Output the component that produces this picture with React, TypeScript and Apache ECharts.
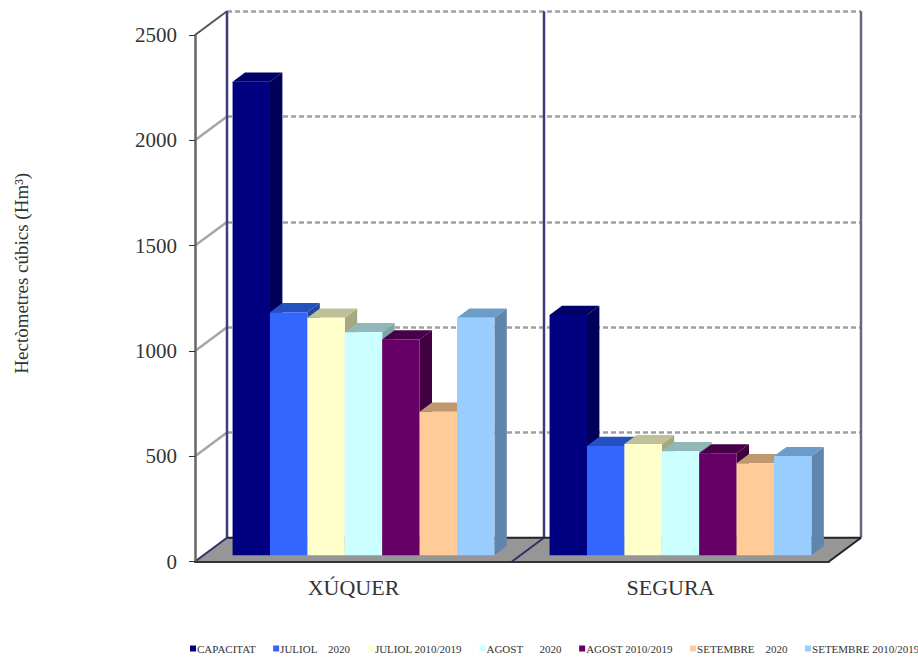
import React, { useEffect, useRef } from "react";
import * as echarts from "echarts";

const categories = ["XÚQUER", "SEGURA"];
const seriesNames = [
  "CAPACITAT",
  "JULIOL    2020",
  "JULIOL 2010/2019",
  "AGOST      2020",
  "AGOST 2010/2019",
  "SETEMBRE    2020",
  "SETEMBRE 2010/2019",
];
const capacitat = [2249, 1141];
const juliol2020 = [1154, 519];
const juliolMitjana = [1128, 528];
const agost2020 = [1059, 494];
const agostMitjana = [1025, 484];
const setembre2020 = [682, 437];
const setembreMitjana = [1128, 471];
const seriesValues = [capacitat, juliol2020, juliolMitjana, agost2020, agostMitjana, setembre2020, setembreMitjana];

const frontColors = ["#000080", "#3366ff", "#ffffcc", "#ccffff", "#660066", "#ffcc99", "#99ccff"];
const topColors = ["#000068", "#2450c0", "#c0c098", "#90b8b8", "#470047", "#c09870", "#6c9cc8"];
const sideColors = ["#000058", "#24489c", "#a8a880", "#80a4a4", "#400040", "#a88460", "#6285ad"];

const FONT = "'Liberation Serif', 'Times New Roman', serif";
const TEXT = "#333333";
const WALL_DX = 32;
const WALL_DY = -23.7;
const BAR_NEAR_DX = 8.6;
const BAR_NEAR_DY = -6.2;
const BAR_DEPTH_DX = 12.4;
const BAR_DEPTH_DY = -9.2;
const BAR_BAND_SHARE = 0.118;

const barRender = (seriesIndex: number) => (_p: any, api: any) => {
  const cat = api.value(0);
  const val = api.value(1);
  const base = api.coord([cat, 0]);
  const top = api.coord([cat, val]);
  const band = api.size([1, 0])[0];
  const w = band * BAR_BAND_SHARE;
  const x0 = base[0] + BAR_NEAR_DX + (seriesIndex - 3.5) * w + 1.4;
  const x1 = x0 + w;
  const yb = base[1] + BAR_NEAR_DY;
  const yt = top[1] + BAR_NEAR_DY;
  const dx = BAR_DEPTH_DX;
  const dy = BAR_DEPTH_DY;
  return {
    type: "group",
    children: [
      {
        type: "polygon",
        shape: { points: [[x1, yt], [x1 + dx, yt + dy], [x1 + dx, yb + dy], [x1, yb]] },
        style: { fill: sideColors[seriesIndex] },
      },
      {
        type: "polygon",
        shape: { points: [[x0, yt], [x0 + dx, yt + dy], [x1 + dx, yt + dy], [x1, yt]] },
        style: { fill: topColors[seriesIndex] },
      },
      {
        type: "rect",
        shape: { x: x0, y: yt, width: w, height: yb - yt },
        style: { fill: frontColors[seriesIndex] },
      },
    ],
  };
};

const wallRender = (_p: any, api: any) => {
  const band = api.size([1, 0])[0];
  const left = api.coord([0, 0])[0] - band / 2;
  const mid = left + band;
  const right = left + 2 * band;
  const y0 = api.coord([0, 0])[1];
  const ticks = [0, 500, 1000, 1500, 2000, 2500];
  const children: any[] = [
    {
      type: "polygon",
      shape: {
        points: [
          [left, y0],
          [right, y0],
          [right + WALL_DX, y0 + WALL_DY],
          [left + WALL_DX, y0 + WALL_DY],
        ],
      },
      style: { fill: "#969696" },
    },
  ];
  const seg = (x1: number, y1: number, x2: number, y2: number, stroke: string, lineWidth: number) =>
    children.push({ type: "line", shape: { x1, y1, x2, y2 }, style: { stroke, lineWidth } });
  ticks.forEach((t) => {
    if (t === 0) return;
    const y = api.coord([0, t])[1];
    seg(left, y, left + WALL_DX, y + WALL_DY, t === 2500 ? "#555555" : "#a6a6a6", t === 2500 ? 2 : 2.5);
  });
  const yTop = api.coord([0, 2500])[1] + WALL_DY;
  seg(left + WALL_DX, yTop, left + WALL_DX, y0 + WALL_DY, "#3c3c78", 2.5);
  seg(mid + WALL_DX, yTop, mid + WALL_DX, y0 + WALL_DY, "#3c3c78", 2.5);
  seg(right + WALL_DX, yTop, right + WALL_DX, y0 + WALL_DY, "#686880", 2.5);
  seg(left + WALL_DX, y0 + WALL_DY, right + WALL_DX, y0 + WALL_DY, "#222222", 2);
  seg(left, y0, left + WALL_DX, y0 + WALL_DY, "#30306a", 2);
  seg(mid, y0, mid + WALL_DX, y0 + WALL_DY, "#30306a", 2);
  seg(right, y0, right + WALL_DX, y0 + WALL_DY, "#222222", 2);
  return { type: "group", children };
};

export default function App() {
  const ref = useRef<HTMLDivElement>(null);
  useEffect(() => {
    const chart = echarts.init(ref.current!, null, { renderer: "svg" });
    chart.setOption({
      animation: false,
      backgroundColor: "#ffffff",
      textStyle: { fontFamily: FONT },
      legend: {
        left: 190,
        top: 643,
        width: 800,
        padding: 0,
        itemGap: 17.5,
        itemWidth: 6,
        itemHeight: 6,
        icon: "rect",
        data: seriesNames,
        selectedMode: false,
        textStyle: { fontFamily: FONT, fontSize: 11, color: TEXT, padding: [0, 0, 0, -4] },
      },
      grid: [
        { left: 195, right: 89, top: 35, bottom: 95.5 },
        { left: 195 + WALL_DX, right: 89 - WALL_DX, top: 35 + WALL_DY, bottom: 95.5 - WALL_DY },
      ],
      xAxis: [
        {
          type: "category",
          gridIndex: 0,
          data: categories,
          z: 10,
          axisLine: { lineStyle: { color: "#333333", width: 2 } },
          axisTick: { length: 5, lineStyle: { color: "#333333", width: 1 } },
          axisLabel: { fontFamily: FONT, fontSize: 22, color: TEXT, margin: 15 },
        },
        {
          type: "category",
          gridIndex: 1,
          data: categories,
          axisLine: { show: false },
          axisTick: { show: false },
          axisLabel: { show: false },
        },
      ],
      yAxis: [
        {
          type: "value",
          gridIndex: 0,
          min: 0,
          max: 2500,
          interval: 500,
          z: 10,
          name: "Hectòmetres cúbics (Hm³)",
          nameLocation: "middle",
          nameGap: 164,
          nameRotate: 90,
          nameTextStyle: { fontFamily: FONT, fontSize: 19, color: TEXT, padding: [0, 0, 0, 50] },
          axisLine: { show: true, lineStyle: { color: "#666666", width: 2.5 } },
          axisTick: { show: true, length: 6, lineStyle: { color: "#333333", width: 1 } },
          axisLabel: {
            fontFamily: FONT,
            fontSize: 21,
            color: TEXT,
            margin: 18,
            formatter: (v: number) => String(v),
          },
          splitLine: { show: false },
        },
        {
          type: "value",
          gridIndex: 1,
          min: 0,
          max: 2500,
          interval: 500,
          axisLine: { show: false },
          axisTick: { show: false },
          axisLabel: { show: false },
          splitLine: { show: true, lineStyle: { color: "#a0a0a0", width: 2.5, type: [5, 3] } },
        },
      ],
      series: [
        {
          name: "walls",
          type: "custom",
          xAxisIndex: 0,
          yAxisIndex: 0,
          silent: true,
          clip: false,
          z: 1,
          renderItem: wallRender,
          data: [[0, 0]],
          encode: { x: 0, y: 1 },
        },
        ...seriesNames.map((name, i) => ({
          name,
          type: "custom",
          xAxisIndex: 0,
          yAxisIndex: 0,
          clip: false,
          z: 2 + i,
          itemStyle: { color: frontColors[i] },
          renderItem: barRender(i),
          data: seriesValues[i].map((v, c) => [c, v]),
          encode: { x: 0, y: 1 },
        })),
      ],
    });
    return () => chart.dispose();
  }, []);
  return (
    <div
      ref={ref}
      style={{ position: "absolute", left: 0, top: 0, width: 918, height: 657 }}
    />
  );
}
